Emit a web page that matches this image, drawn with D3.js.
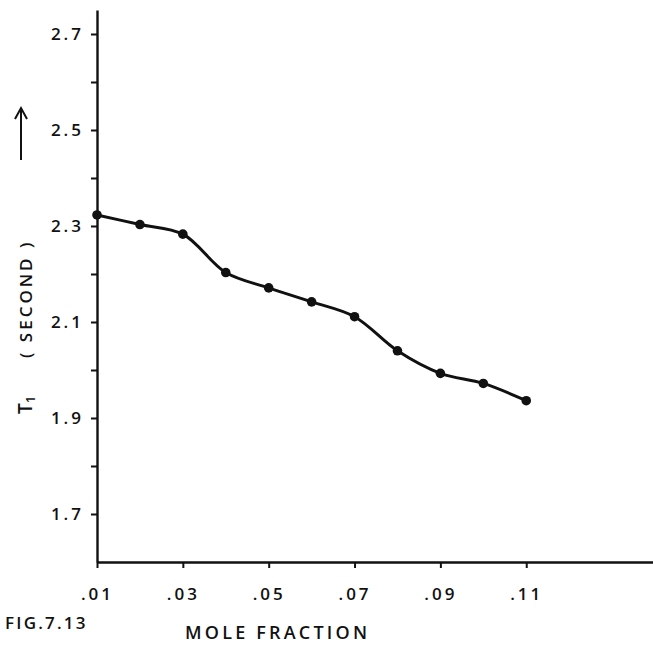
<!DOCTYPE html>
<html>
<head>
<meta charset="utf-8">
<script src="https://cdn.jsdelivr.net/npm/d3@7"></script>
<style>
  body { margin: 0; background: #fff; }
  svg { display: block; }
  text { font-family: "Open Sans", "DejaVu Sans", sans-serif; font-weight: 600; fill: #111; }
</style>
</head>
<body>
<div id="chart"></div>
<script>
// data
var moleFraction = [0.01, 0.02, 0.03, 0.04, 0.05, 0.06, 0.07, 0.08, 0.09, 0.10, 0.11];
var t1Seconds = [2.323, 2.303, 2.283, 2.203, 2.171, 2.142, 2.111, 2.040, 1.993, 1.972, 1.936];

var xTickValues = [0.01, 0.03, 0.05, 0.07, 0.09, 0.11];
var xTickLabels = [".01", ".03", ".05", ".07", ".09", ".11"];
var yTickValues = [1.7, 1.8, 1.9, 2.0, 2.1, 2.2, 2.3, 2.4, 2.5, 2.6, 2.7];
var yLabelled = [1.7, 1.9, 2.1, 2.3, 2.5, 2.7];

var svgWidth = 653;
var svgHeight = 647;

var svg = d3.select("#chart")
  .append("svg")
  .attr("width", svgWidth)
  .attr("height", svgHeight);

svg.append("rect")
  .attr("width", svgWidth)
  .attr("height", svgHeight)
  .attr("fill", "#fff");

// scales
var xScale = d3.scaleLinear()
  .domain([0.01, 0.14])
  .range([97, 655]);

var yScale = d3.scaleLinear()
  .domain([1.6, 2.75])
  .range([562, 10]);

// y axis
var leftAxis = d3.axisLeft(yScale)
  .tickValues(yTickValues)
  .tickSize(6)
  .tickSizeOuter(0)
  .tickPadding(7)
  .tickFormat(function(d) {
    var hit = yLabelled.some(function(v) { return Math.abs(v - d) < 1e-9; });
    return hit ? d3.format(".1f")(d) : "";
  });

var yAxis = svg.append("g")
  .attr("transform", "translate(" + xScale(0.01) + ",0)")
  .call(leftAxis);

yAxis.select(".domain").attr("stroke", "#111").attr("stroke-width", 2.4);
yAxis.selectAll(".tick line").attr("stroke", "#111").attr("stroke-width", 2);
yAxis.selectAll(".tick text")
  .style("font-size", "17px")
  .style("letter-spacing", "3px")
  .attr("fill", "#111");

// x axis
var bottomAxis = d3.axisBottom(xScale)
  .tickValues(xTickValues)
  .tickSize(6)
  .tickSizeOuter(0)
  .tickPadding(20)
  .tickFormat(function(d, i) { return xTickLabels[i]; });

var xAxis = svg.append("g")
  .attr("transform", "translate(0," + yScale(1.6) + ")")
  .call(bottomAxis);

xAxis.select(".domain").attr("stroke", "#111").attr("stroke-width", 2.4);
xAxis.selectAll(".tick line").attr("stroke", "#111").attr("stroke-width", 2);
xAxis.selectAll(".tick text")
  .style("font-size", "17px")
  .style("letter-spacing", "3px")
  .attr("fill", "#111");

// the curve
var line = d3.line()
  .x(function(d, i) { return xScale(moleFraction[i]); })
  .y(function(d) { return yScale(d); })
  .curve(d3.curveCatmullRom.alpha(0.5));

svg.append("path")
  .datum(t1Seconds)
  .attr("d", line)
  .attr("fill", "none")
  .attr("stroke", "#111")
  .attr("stroke-width", 3)
  .attr("stroke-linejoin", "round");

svg.selectAll("circle.pt")
  .data(t1Seconds)
  .enter()
  .append("circle")
  .attr("class", "pt")
  .attr("cx", function(d, i) { return xScale(moleFraction[i]); })
  .attr("cy", function(d) { return yScale(d); })
  .attr("r", 4.8)
  .attr("fill", "#111");

// axis titles
svg.append("text")
  .attr("x", 185)
  .attr("y", 639)
  .style("font-size", "18px")
  .style("letter-spacing", "3.2px")
  .text("MOLE FRACTION");

svg.append("text")
  .attr("x", 5)
  .attr("y", 629)
  .style("font-size", "17px")
  .style("letter-spacing", "2.2px")
  .text("FIG.7.13");

// rotated y title: T1 ( SECOND )
var yTitle = svg.append("text")
  .attr("transform", "translate(32,414) rotate(-90)")
  .style("font-size", "19px");

yTitle.append("tspan").text("T");
yTitle.append("tspan")
  .attr("dy", 3)
  .style("font-size", "13px")
  .text("1");

svg.append("text")
  .attr("transform", "translate(32,358) rotate(-90)")
  .style("font-size", "17px")
  .style("letter-spacing", "3px")
  .text("( SECOND )");

// upward arrow
svg.append("line")
  .attr("x1", 21).attr("y1", 160)
  .attr("x2", 21).attr("y2", 110)
  .attr("stroke", "#111")
  .attr("stroke-width", 2);

svg.append("path")
  .attr("d", "M15,119 L21,108 L27,119")
  .attr("fill", "none")
  .attr("stroke", "#111")
  .attr("stroke-width", 2);
</script>
</body>
</html>
